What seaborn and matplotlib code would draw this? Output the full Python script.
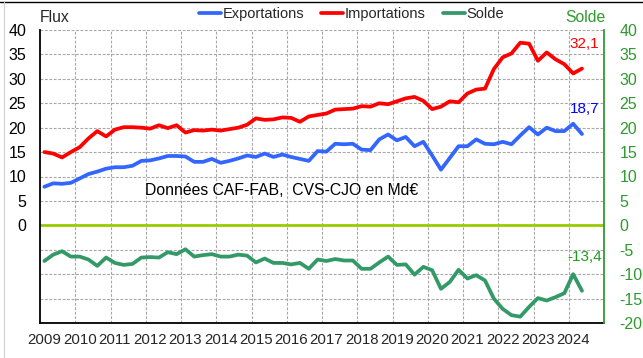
import numpy as np
import pandas as pd
import matplotlib
matplotlib.use("Agg")
import matplotlib.pyplot as plt
import seaborn as sns
from matplotlib.lines import Line2D

# Quarterly series, 2009 Q1 to 2024 Q2 (Md€, CAF-FAB, CVS-CJO)
years = list(range(2009, 2025))
exportations = [7.9, 8.6, 8.5, 8.7, 9.6, 10.5, 11.0, 11.6,
                11.9, 11.9, 12.2, 13.2, 13.3, 13.7, 14.2, 14.2,
                14.1, 13.0, 13.0, 13.6, 12.8, 13.2, 13.7, 14.3,
                14.0, 14.7, 14.0, 14.5, 14.0, 13.6, 13.2, 15.2,
                15.1, 16.7, 16.6, 16.7, 15.5, 15.4, 17.6, 18.6,
                17.4, 18.1, 16.2, 17.1, 14.3, 11.4, 13.8, 16.2,
                16.2, 17.6, 16.7, 16.6, 17.1, 16.6, 18.4, 20.1,
                18.6, 20.0, 19.3, 19.3, 20.8, 18.7]
importations = [15.0, 14.7, 13.9, 15.0, 16.0, 17.8, 19.3, 18.2,
                19.6, 20.1, 20.1, 20.0, 19.8, 20.5, 19.9, 20.5,
                19.0, 19.5, 19.4, 19.6, 19.4, 19.7, 20.0, 20.6,
                21.9, 21.6, 21.7, 22.1, 22.0, 21.2, 22.3, 22.6,
                22.9, 23.7, 23.8, 23.9, 24.4, 24.3, 25.0, 24.8,
                25.4, 26.0, 26.3, 25.5, 23.8, 24.3, 25.4, 25.2,
                27.0, 27.8, 28.0, 32.0, 34.4, 35.2, 37.4, 37.2,
                33.7, 35.4, 34.0, 33.0, 31.1, 32.1]
solde = [-7.3, -6.0, -5.3, -6.4, -6.4, -7.0, -8.3, -6.6,
         -7.7, -8.1, -7.9, -6.6, -6.5, -6.6, -5.5, -5.9,
         -4.9, -6.4, -6.1, -5.9, -6.4, -6.4, -6.0, -6.2,
         -7.6, -6.8, -7.7, -7.7, -8.0, -7.7, -8.9, -7.0,
         -7.3, -6.9, -7.2, -7.2, -8.9, -8.9, -7.6, -6.4,
         -8.1, -8.0, -10.1, -8.5, -9.2, -13.0, -11.6, -9.1,
         -10.9, -10.2, -11.3, -15.0, -17.1, -18.4, -18.7, -16.7,
         -14.9, -15.4, -14.7, -13.9, -10.0, -13.4]
series_names = ["Exportations", "Importations", "Solde"]
series_colors = ["#3366FF", "#FF0000", "#339966"]
label_colors = ["#0000FF", "#FF0000", "#1E9A1E"]
left_ticks = [0, 5, 10, 15, 20, 25, 30, 35, 40]
right_ticks = [-20, -15, -10, -5, 0, 5, 10, 15, 20, 25, 30, 35, 40]

sns.set_style("white")
plt.rcParams["font.family"] = ["Liberation Sans", "DejaVu Sans"]
plt.rcParams["font.size"] = 10.5

n = len(exportations)
df = pd.DataFrame({
    "trimestre": np.arange(n),
    "Exportations": exportations,
    "Importations": importations,
    "Solde": solde,
})

W, H = 643, 358
fig = plt.figure(figsize=(W / 100, H / 100), dpi=100)
ax = fig.add_axes([40 / W, 1 - 323 / H, 564 / W, 293 / H])
ax.set_facecolor("white")

nq = 4 * len(years)
ax.set_xlim(-0.5, nq - 0.5)
ax.set_ylim(-20, 40)

# grid: horizontal every 5, vertical at year boundaries
grid_kw = dict(color="#A6A6A6", linestyle=(0, (2.5, 1.5)), linewidth=0.8)
ax.set_yticks(right_ticks)
ax.set_yticklabels([str(v) if v in left_ticks else "" for v in right_ticks])
ax.set_xticks([4 * k for k in range(len(years))])
ax.set_xticklabels([str(y) for y in years])
ax.set_xticks([4 * k - 0.5 for k in range(1, len(years))], minor=True)
ax.grid(False)
ax.yaxis.grid(True, which="major", **grid_kw)
ax.xaxis.grid(True, which="minor", **grid_kw)
ax.set_axisbelow(True)

ax.axhline(0, color="#99CC00", linewidth=2.0, zorder=2)

for name, col in zip(series_names, series_colors):
    sns.lineplot(data=df, x="trimestre", y=name, color=col, linewidth=2.7,
                 label=name, ax=ax, zorder=3)

handles, labels = ax.get_legend_handles_labels()
ax.get_legend().remove()
ax.set_xlabel("")
ax.set_ylabel("")

ax.tick_params(axis="both", which="both", length=0)
ax.tick_params(axis="y", pad=10, labelsize=11.5, colors="black")
ax.tick_params(axis="x", pad=7, labelsize=10.8)

for side in ["top", "right"]:
    ax.spines[side].set_visible(False)
ax.spines["left"].set_color("black")
ax.spines["left"].set_linewidth(1.3)
ax.spines["bottom"].set_color("black")
ax.spines["bottom"].set_linewidth(1.3)

# right axis for the balance
ax2 = ax.twinx()
ax2.set_ylim(ax.get_ylim())
ax2.set_yticks(right_ticks)
ax2.set_yticklabels([str(v) for v in right_ticks])
ax2.tick_params(axis="y", length=0, pad=11, labelsize=11.5, colors="#2E9A2E")
for side in ["top", "left", "bottom"]:
    ax2.spines[side].set_visible(False)
ax2.spines["right"].set_color("#339933")
ax2.spines["right"].set_linewidth(1.3)
ax2.grid(False)

# last values
last = n - 1
for vals, col, dy in [(importations, label_colors[1], 18),
                      (exportations, label_colors[0], 18),
                      (solde, label_colors[2], 24)]:
    ax.annotate(f"{vals[last]:.1f}".replace(".", ","), xy=(last, vals[last]),
                xytext=(2, dy), textcoords="offset points",
                ha="center", va="center", color=col, fontsize=11, zorder=5)

fig.text(145 / W, 1 - 190 / H, "Données CAF-FAB,  CVS-CJO en Md€",
         ha="left", va="center", fontsize=11.3, color="black")

fig.text(40 / W, 1 - 18 / H, "Flux", ha="left", va="center", fontsize=11.3)
fig.text(605 / W, 1 - 18 / H, "Solde", ha="right", va="center",
         fontsize=11.3, color="#2E9A2E")

fig.legend(handles, labels, loc="center left",
           bbox_to_anchor=(199 / W, 1 - 14 / H), ncol=3, frameon=False,
           borderpad=0, borderaxespad=0, handlelength=1.5, handletextpad=0.1,
           columnspacing=1.2, fontsize=10.5)

# thin frame lines around the figure
fig.add_artist(Line2D([0, 1], [1 - 1.5 / H, 1 - 1.5 / H], color="black",
                      linewidth=1.0, transform=fig.transFigure))
fig.add_artist(Line2D([3.5 / W, 3.5 / W], [0, 1 - 1.5 / H], color="#D0D0D0",
                      linewidth=0.8, transform=fig.transFigure))

fig.savefig("out.png", dpi=100, facecolor="white")
